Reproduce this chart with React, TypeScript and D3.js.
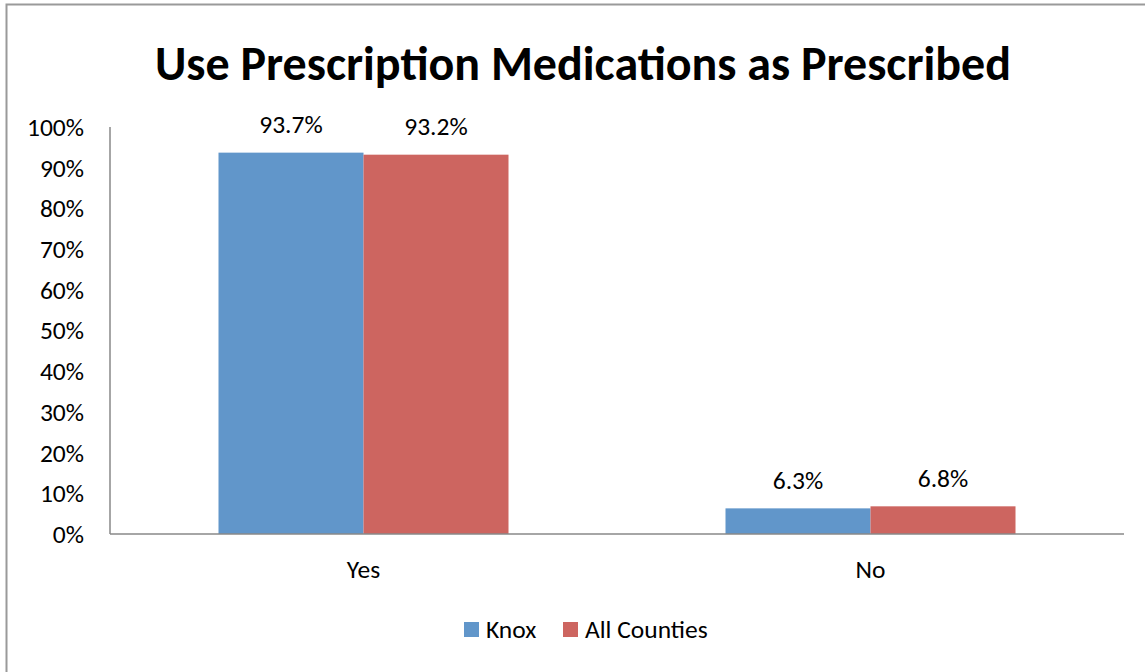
import React from "react";
import * as d3 from "d3";

const categories = ["Yes", "No"];
const seriesNames = ["Knox", "All Counties"];
const knoxValues = [93.7, 6.3];
const allCountiesValues = [93.2, 6.8];
const yTicks = [0, 10, 20, 30, 40, 50, 60, 70, 80, 90, 100];
const colors = ["#6196CA", "#CD6560"];

const width = 1145;
const height = 672;
const margin = { top: 127, right: 21, bottom: 138, left: 110 };
const font = "Calibri, Carlito, 'Open Sans', sans-serif";
const labelSize = 25.5;

const App: React.FC = () => {
  const innerW = width - margin.left - margin.right;
  const innerH = height - margin.top - margin.bottom;

  const x0 = d3
    .scaleBand<string>()
    .domain(categories)
    .range([0, innerW])
    .paddingInner(0.428)
    .paddingOuter(0.214);

  const x1 = d3
    .scaleBand<string>()
    .domain(seriesNames)
    .range([0, x0.bandwidth()]);

  const y = d3.scaleLinear().domain([0, 100]).range([innerH, 0]);

  const series = [knoxValues, allCountiesValues];

  return (
    <svg
      width={width}
      height={height}
      style={{ position: "fixed", left: 0, top: 0, background: "#fff" }}
    >
      <rect
        x={6.5}
        y={4.5}
        width={width}
        height={height}
        fill="#fff"
        stroke="#9a9a9a"
        strokeWidth={2}
      />
      <text
        x={583}
        y={80}
        textAnchor="middle"
        fontFamily={font}
        fontWeight="bold"
        fontSize={48}
        fill="#000"
      >
        Use Prescription Medications as Prescribed
      </text>
      <g transform={`translate(${margin.left},${margin.top})`}>
        {yTicks.map((t) => (
          <text
            key={t}
            x={-26}
            y={y(t)}
            dy="0.35em"
            textAnchor="end"
            fontFamily={font}
            fontSize={labelSize}
            fill="#000"
          >
            {t}%
          </text>
        ))}
        {categories.map((c, ci) => (
          <g key={c} transform={`translate(${x0(c)},0)`}>
            {seriesNames.map((s, si) => {
              const v = series[si][ci];
              const bx = x1(s)!;
              return (
                <g key={s}>
                  <rect
                    x={bx}
                    y={y(v)}
                    width={x1.bandwidth()}
                    height={innerH - y(v)}
                    fill={colors[si]}
                  />
                  <text
                    x={bx + x1.bandwidth() / 2}
                    y={y(v) - 19.5}
                    textAnchor="middle"
                    fontFamily={font}
                    fontSize={labelSize}
                    fill="#000"
                  >
                    {v.toFixed(1)}%
                  </text>
                </g>
              );
            })}
            <text
              x={x0.bandwidth() / 2}
              y={innerH + 44}
              textAnchor="middle"
              fontFamily={font}
              fontSize={labelSize}
              fill="#000"
            >
              {c}
            </text>
          </g>
        ))}
        <line x1={0} x2={0} y1={0} y2={innerH} stroke="#888" strokeWidth={1.5} />
        <line x1={0} x2={innerW} y1={innerH} y2={innerH} stroke="#888" strokeWidth={1.5} />
      </g>
      <g transform="translate(464,622)">
        {seriesNames.map((s, i) => {
          const off = i === 0 ? 0 : 99;
          return (
            <g key={s} transform={`translate(${off},0)`}>
              <rect width={15} height={15} fill={colors[i]} />
              <text
                x={22}
                y={16}
                fontFamily={font}
                fontSize={labelSize}
                fill="#000"
              >
                {s}
              </text>
            </g>
          );
        })}
      </g>
    </svg>
  );
};

export default App;
